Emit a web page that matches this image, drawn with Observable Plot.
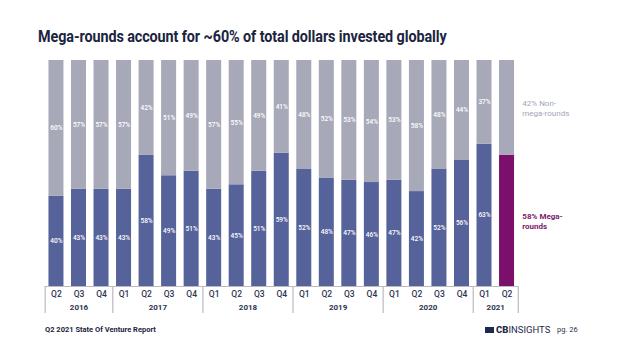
<!DOCTYPE html>
<html><head><meta charset="utf-8">
<script src="https://cdn.jsdelivr.net/npm/d3@7"></script>
<script src="https://cdn.jsdelivr.net/npm/@observablehq/plot@0.6"></script>
<style>
body{margin:0;background:#fff;font-family:Roboto,sans-serif;}
#wrap{position:relative;width:625px;height:351px;overflow:hidden;}
#title{position:absolute;left:38px;top:26px;font:700 17px Roboto,sans-serif;color:#1b2440;white-space:nowrap;transform-origin:0 0;transform:scaleX(0.845);letter-spacing:-0.1px;}
#foot{position:absolute;left:45px;top:325px;font:700 7.5px Roboto,sans-serif;color:#1b2440;white-space:nowrap;}
#logo{position:absolute;left:485px;top:324px;font:400 9.5px Roboto,sans-serif;color:#1f2a4a;white-space:nowrap;display:flex;align-items:center;}
#logo .ic{display:inline-block;width:9px;height:6px;background:#1f2a4a;margin-right:2px;}
#logo b{font-weight:900;}
#pg{position:absolute;left:557px;top:325px;font:400 7.5px Roboto,sans-serif;color:#2a3350;}
svg{position:absolute;left:0;top:0;}
</style></head>
<body><div id="wrap">
<div id="title">Mega-rounds account for ~60% of total dollars invested globally</div>
<div id="foot">Q2 2021 State Of Venture Report</div>
<div id="logo"><span class="ic"></span><b>CB</b>INSIGHTS</div>
<div id="pg">pg. 26</div>
</div>
<script>
const quarters = ["Q2","Q3","Q4","Q1","Q2","Q3","Q4","Q1","Q2","Q3","Q4","Q1","Q2","Q3","Q4","Q1","Q2","Q3","Q4","Q1","Q2"];
const years = ["2016","2016","2016","2017","2017","2017","2017","2018","2018","2018","2018","2019","2019","2019","2019","2020","2020","2020","2020","2021","2021"];
const mega = [40,43,43,43,58,49,51,43,45,51,59,52,48,47,46,47,42,52,56,63,58];
const nonMega = [60,57,57,57,42,51,49,57,55,49,41,48,52,53,54,53,58,48,44,37,42];
const annotations = ["42% Non-\nmega-rounds","58% Mega-\nrounds"];

const blue = "#56629a", gray = "#a7a8b8", purple = "#7b0f6b";
const last = quarters.length - 1;
const rows = quarters.map((q,i)=>({i,q,year:years[i],mega:mega[i],non:nonMega[i]}));
const yearGroups = d3.groups(rows, d=>d.year).map(([year,rs])=>({year,first:d3.min(rs,d=>d.i),last:d3.max(rs,d=>d.i),mid:d3.mean(rs,d=>d.i)}));
const seps = yearGroups.map(g=>g.first-0.5).concat([last+0.5]);
const hw = 0.333;

const chart = Plot.plot({
  width:625, height:351,
  marginTop:60, marginBottom:65, marginLeft:44.7, marginRight:107.2,
  x:{domain:[-0.5,last+0.5], axis:null},
  y:{domain:[0,100], axis:null},
  style:{fontFamily:"Roboto, sans-serif", background:"transparent"},
  marks:[
    Plot.rectY(rows,{x1:d=>d.i-hw,x2:d=>d.i+hw,y1:0,y2:"mega",fill:d=>d.i===last?purple:blue}),
    Plot.rectY(rows,{x1:d=>d.i-hw,x2:d=>d.i+hw,y1:"mega",y2:d=>d.mega+d.non,fill:gray}),
    Plot.text(rows.filter(d=>d.i!==last),{x:"i",y:d=>d.mega/2,text:d=>d.mega+"%",fill:"white",fontSize:6.5,fontWeight:500}),
    Plot.text(rows.filter(d=>d.i!==last),{x:"i",y:d=>d.mega+d.non/2,text:d=>d.non+"%",fill:"white",fontSize:6.5,fontWeight:500}),
    Plot.ruleY([0],{x1:-0.5,x2:last+0.5,stroke:"#b9bac4",strokeWidth:1}),
    Plot.ruleX(seps,{x:d=>d,y1:0,y2:-12,stroke:"#b9bac4",strokeWidth:1.2}),
    Plot.text(rows,{x:"i",y:0,dy:8,text:"q",fill:"#2c3450",fontSize:8.5,fontWeight:500}),
    Plot.text(yearGroups,{x:"mid",y:0,dy:21,text:"year",fill:"#2c3450",fontSize:8,fontWeight:700}),
    Plot.text([rows[last]],{x:last+0.5,y:d=>d.mega+d.non/2,dx:4,text:()=>annotations[0],textAnchor:"start",fill:"#a3a5b7",fontSize:8,lineHeight:1.2}),
    Plot.text([rows[last]],{x:last+0.5,y:d=>d.mega/2,dx:4,text:()=>annotations[1],textAnchor:"start",fill:"#7b1a6e",fontSize:8,fontWeight:700,lineHeight:1.2})
  ]
});
document.getElementById("wrap").appendChild(chart);
</script>
</body></html>
